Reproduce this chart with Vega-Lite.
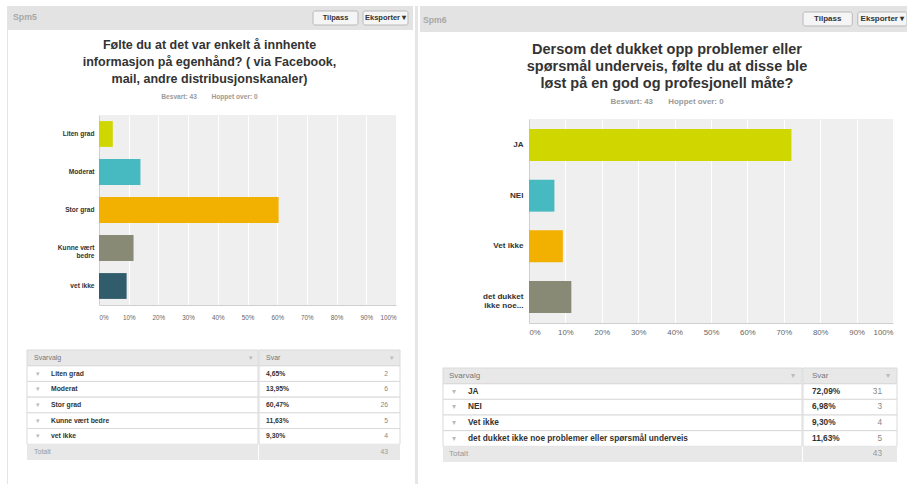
{
  "$schema": "https://vega.github.io/schema/vega-lite/v6.json",
  "background": "white",
  "padding": {"left": 7, "top": 6, "right": 0, "bottom": 0},
  "config": {
    "font": "Liberation Sans",
    "locale": {"number": {"decimal": ",", "thousands": " ", "grouping": [3], "currency": ["", " kr"]}},
    "view": {"stroke": null},
    "axis": {"labelFont": "Liberation Sans"},
    "text": {"font": "Liberation Sans"}
  },
  "datasets": {
    "spm5": [
      {"svar": "Liten grad", "andel": 0.0465, "antall": 2},
      {"svar": "Moderat", "andel": 0.1395, "antall": 6},
      {"svar": "Stor grad", "andel": 0.6047, "antall": 26},
      {"svar": "Kunne vært bedre", "andel": 0.1163, "antall": 5},
      {"svar": "vet ikke", "andel": 0.0930, "antall": 4}
    ],
    "spm6": [
      {"svar": "JA", "andel": 0.7209, "antall": 31},
      {"svar": "NEI", "andel": 0.0698, "antall": 3},
      {"svar": "Vet ikke", "andel": 0.0930, "antall": 4},
      {"svar": "det dukket ikke noe problemer eller spørsmål underveis", "andel": 0.1163, "antall": 5}
    ],
    "knapper": [
      {"knapp": "Tilpass", "rad": "verktøy"},
      {"knapp": "Eksporter ▾", "rad": "verktøy"}
    ],
    "tom": []
  },
  "spacing": 2,
  "resolve": {"scale": {"color": "independent"}},
  "hconcat": [
    {
      "spacing": 0,
      "hconcat": [
        {"width": 1, "height": 478, "view": {"fill": "#e4e4e4", "stroke": null}, "data": {"name": "tom"}, "mark": "point"},
        {
          "spacing": 8,
          "vconcat": [
            {
              "width": 405, "height": 24,
              "view": {"fill": "#e3e3e3", "stroke": null},
              "data": {"name": "knapper"},
              "title": {"text": "Spm5", "anchor": "start", "frame": "group", "orient": "top", "baseline": "top", "offset": -15.4, "dx": 5, "fontSize": 8.8, "fontWeight": "bold", "color": "#a8a8a8"},
              "encoding": {
                "x": {"field": "knapp", "type": "nominal", "scale": {"domain": ["_1", "_2", "_3", "_4", "_5", "_6", "Tilpass", "Eksporter ▾"], "paddingInner": 0.1, "paddingOuter": 0.1}, "axis": null},
                "y": {"field": "rad", "type": "nominal", "scale": {"paddingInner": 0, "paddingOuter": 0.357}, "axis": null}
              },
              "layer": [
                {"mark": {"type": "rect", "fill": "#f5f5f5", "stroke": "#b9b9b9", "cornerRadius": 2}},
                {"mark": {"type": "text", "fontWeight": "bold", "fontSize": 7.5, "color": "#333333"}, "encoding": {"text": {"field": "knapp"}}}
              ]
            },
            {
              "spacing": 0,
              "hconcat": [
                {"width": 41, "height": 1, "data": {"name": "tom"}, "mark": "point"},
                {
                  "width": 297, "height": 190,
                  "view": {"fill": "#efefef", "stroke": null},
                  "data": {"name": "spm5"},
                  "title": {
                    "text": ["Følte du at det var enkelt å innhente", "informasjon på egenhånd? ( via Facebook,", "mail, andre distribusjonskanaler)"],
                    "subtitle": "Besvart: 43\u00a0\u00a0\u00a0\u00a0\u00a0\u00a0\u00a0\u00a0Hoppet over: 0",
                    "anchor": "middle", "frame": "group", "orient": "top", "baseline": "top", "dx": -38,
                    "fontSize": 12.5, "fontWeight": "bold", "color": "#333333", "lineHeight": 17,
                    "subtitleFontSize": 6.6, "subtitleFontWeight": "bold", "subtitleColor": "#9a9a9a", "subtitlePadding": 9,
                    "offset": 14
                  },
                  "mark": {"type": "bar"},
                  "encoding": {
                    "y": {"field": "svar", "type": "nominal",
                      "scale": {"domain": ["Liten grad", "Moderat", "Stor grad", "Kunne vært bedre", "vet ikke"], "paddingInner": 0.32, "paddingOuter": 0.16},
                      "axis": {"title": null, "ticks": false, "grid": false, "domain": true, "domainColor": "#d0d0d0", "labelFontWeight": "bold", "labelFontSize": 6.6, "labelColor": "#333333", "labelPadding": 5, "labelLineHeight": 8, "labelExpr": "datum.label == 'Kunne vært bedre' ? ['Kunne vært', 'bedre'] : datum.label", "minExtent": 50, "maxExtent": 50}},
                    "x": {"field": "andel", "type": "quantitative", "scale": {"domain": [0, 1], "nice": false},
                      "axis": {"title": null, "values": [0, 0.1, 0.2, 0.3, 0.4, 0.5, 0.6, 0.7, 0.8, 0.9, 1], "format": ".0%", "grid": true, "gridColor": "#ffffff", "gridWidth": 1, "ticks": false, "domain": true, "domainColor": "#d0d0d0", "labelFontSize": 6.3, "labelColor": "#666666", "labelPadding": 9, "labelFlush": true, "minExtent": 36, "maxExtent": 36}},
                    "color": {"field": "svar", "type": "nominal", "legend": null,
                      "scale": {"domain": ["Liten grad", "Moderat", "Stor grad", "Kunne vært bedre", "vet ikke"], "range": ["#d0d600", "#46b9c1", "#f2b100", "#888a76", "#305c6c"]}}
                  }
                }
              ]
            },
            {
              "spacing": -2,
              "hconcat": [
                {"width": 19, "height": 1, "data": {"name": "tom"}, "mark": "point"},
                {
                  "width": 231, "height": 110,
                  "view": {"stroke": null},
                  "data": {"name": "spm5"},
                  "encoding": {
                    "y": {"field": "svar", "type": "nominal",
                      "scale": {"domain": ["Svarvalg", "Liten grad", "Moderat", "Stor grad", "Kunne vært bedre", "vet ikke", "Totalt"], "paddingInner": 0, "paddingOuter": 0},
                      "axis": null}
                  },
                  "layer": [
                    {"mark": {"type": "rect", "fill": "#ffffff", "stroke": "#dadada"},
                      "encoding": {"x": {"datum": 0, "type": "quantitative", "scale": {"domain": [0, 1], "nice": false}, "axis": null}, "x2": {"datum": 1}}},
                    {"mark": {"type": "text", "text": "▾", "align": "center", "dx": 11, "fontSize": 7, "color": "#bbbbbb"},
                      "encoding": {"x": {"datum": 0, "type": "quantitative"}}},
                    {"mark": {"type": "text", "align": "left", "dx": 24, "fontSize": 6.8, "fontWeight": "bold", "color": "#333333"},
                      "encoding": {"x": {"datum": 0, "type": "quantitative"}, "text": {"field": "svar"}}},
                    {
                      "transform": [{"aggregate": [{"op": "sum", "field": "antall", "as": "totalt"}]}],
                      "layer": [
                        {"mark": {"type": "rect", "fill": "#e8e8e8", "stroke": "#dadada"},
                          "encoding": {"y": {"datum": "Svarvalg", "type": "nominal"}, "x": {"datum": 0, "type": "quantitative"}, "x2": {"datum": 1}}},
                        {"mark": {"type": "rect", "fill": "#e8e8e8"},
                          "encoding": {"y": {"datum": "Totalt", "type": "nominal"}, "x": {"datum": 0, "type": "quantitative"}, "x2": {"datum": 1}}},
                        {"mark": {"type": "text", "text": "Svarvalg", "align": "left", "dx": 7, "fontSize": 7, "color": "#777777"},
                          "encoding": {"y": {"datum": "Svarvalg", "type": "nominal"}, "x": {"datum": 0, "type": "quantitative"}}},
                        {"mark": {"type": "text", "text": "▾", "align": "center", "dx": -7, "fontSize": 7, "color": "#bbbbbb"},
                          "encoding": {"y": {"datum": "Svarvalg", "type": "nominal"}, "x": {"datum": 1, "type": "quantitative"}}},
                        {"mark": {"type": "text", "text": "Totalt", "align": "left", "dx": 7, "fontSize": 7, "color": "#999999"},
                          "encoding": {"y": {"datum": "Totalt", "type": "nominal"}, "x": {"datum": 0, "type": "quantitative"}}}
                      ]
                    }
                  ]
                },
                {
                  "width": 141, "height": 110,
                  "view": {"stroke": null},
                  "data": {"name": "spm5"},
                  "encoding": {
                    "y": {"field": "svar", "type": "nominal",
                      "scale": {"domain": ["Svarvalg", "Liten grad", "Moderat", "Stor grad", "Kunne vært bedre", "vet ikke", "Totalt"], "paddingInner": 0, "paddingOuter": 0},
                      "axis": null}
                  },
                  "layer": [
                    {"mark": {"type": "rect", "fill": "#ffffff", "stroke": "#dadada"},
                      "encoding": {"x": {"datum": 0, "type": "quantitative", "scale": {"domain": [0, 1], "nice": false}, "axis": null}, "x2": {"datum": 1}}},
                    {"mark": {"type": "text", "align": "left", "dx": 7, "fontSize": 6.8, "fontWeight": "bold", "color": "#333333"},
                      "encoding": {"x": {"datum": 0, "type": "quantitative"}, "text": {"field": "andel", "type": "quantitative", "format": ".2%"}}},
                    {"mark": {"type": "text", "align": "right", "dx": -12, "fontSize": 6.8, "color": "#888888"},
                      "encoding": {"x": {"datum": 1, "type": "quantitative"}, "text": {"field": "antall", "type": "quantitative"}}},
                    {
                      "transform": [{"aggregate": [{"op": "sum", "field": "antall", "as": "totalt"}]}],
                      "layer": [
                        {"mark": {"type": "rect", "fill": "#e8e8e8", "stroke": "#dadada"},
                          "encoding": {"y": {"datum": "Svarvalg", "type": "nominal"}, "x": {"datum": 0, "type": "quantitative"}, "x2": {"datum": 1}}},
                        {"mark": {"type": "rect", "fill": "#e8e8e8"},
                          "encoding": {"y": {"datum": "Totalt", "type": "nominal"}, "x": {"datum": 0, "type": "quantitative"}, "x2": {"datum": 1}}},
                        {"mark": {"type": "text", "text": "Svar", "align": "left", "dx": 7, "fontSize": 7, "color": "#777777"},
                          "encoding": {"y": {"datum": "Svarvalg", "type": "nominal"}, "x": {"datum": 0, "type": "quantitative"}}},
                        {"mark": {"type": "text", "text": "▾", "align": "center", "dx": -8, "fontSize": 7, "color": "#bbbbbb"},
                          "encoding": {"y": {"datum": "Svarvalg", "type": "nominal"}, "x": {"datum": 1, "type": "quantitative"}}},
                        {"mark": {"type": "text", "align": "right", "dx": -12, "fontSize": 6.8, "color": "#999999"},
                          "encoding": {"y": {"datum": "Totalt", "type": "nominal"}, "x": {"datum": 1, "type": "quantitative"}, "text": {"field": "totalt", "type": "quantitative"}}}
                      ]
                    }
                  ]
                }
              ]
            }
          ]
        }
      ]
    },
    {"width": 3, "height": 478, "view": {"fill": "#e6e6e6", "stroke": null}, "data": {"name": "tom"}, "mark": "point"},
    {
      "spacing": 10,
      "vconcat": [
        {
          "width": 487, "height": 26,
          "view": {"fill": "#e3e3e3", "stroke": null},
          "data": {"name": "knapper"},
          "title": {"text": "Spm6", "anchor": "start", "frame": "group", "orient": "top", "baseline": "top", "offset": -18.4, "dx": 3, "fontSize": 8.7, "fontWeight": "bold", "color": "#a8a8a8"},
          "encoding": {
            "x": {"field": "knapp", "type": "nominal", "scale": {"domain": ["_1", "_2", "_3", "_4", "_5", "_6", "_7", "Tilpass", "Eksporter ▾"], "paddingInner": 0.1, "paddingOuter": 0}, "axis": null},
            "y": {"field": "rad", "type": "nominal", "scale": {"paddingInner": 0, "paddingOuter": 0.4286}, "axis": null}
          },
          "layer": [
            {"mark": {"type": "rect", "fill": "#f5f5f5", "stroke": "#b9b9b9", "cornerRadius": 2}},
            {"mark": {"type": "text", "fontWeight": "bold", "fontSize": 8, "color": "#333333"}, "encoding": {"text": {"field": "knapp"}}}
          ]
        },
        {
          "spacing": 0,
          "hconcat": [
            {"width": 59, "height": 1, "data": {"name": "tom"}, "mark": "point"},
            {
              "width": 364, "height": 204,
              "view": {"fill": "#efefef", "stroke": null},
              "data": {"name": "spm6"},
              "title": {
                "text": ["Dersom det dukket opp problemer eller", "spørsmål underveis, følte du at disse ble", "løst på en god og profesjonell måte?"],
                "subtitle": "Besvart: 43\u00a0\u00a0\u00a0\u00a0\u00a0\u00a0\u00a0Hoppet over: 0",
                "anchor": "middle", "frame": "group", "orient": "top", "baseline": "top", "dx": -44,
                "fontSize": 14.5, "fontWeight": "bold", "color": "#333333", "lineHeight": 17,
                "subtitleFontSize": 7.9, "subtitleFontWeight": "bold", "subtitleColor": "#9a9a9a", "subtitlePadding": 6.5,
                "offset": 12
              },
              "mark": {"type": "bar"},
              "encoding": {
                "y": {"field": "svar", "type": "nominal",
                  "scale": {"domain": ["JA", "NEI", "Vet ikke", "det dukket ikke noe problemer eller spørsmål underveis"], "paddingInner": 0.37, "paddingOuter": 0.2},
                  "axis": {"title": null, "ticks": false, "grid": false, "domain": true, "domainColor": "#d0d0d0", "labelFontWeight": "bold", "labelFontSize": 8.1, "labelColor": "#333333", "labelPadding": 6, "labelLineHeight": 9, "labelExpr": "indexof(datum.label, 'det dukket') == 0 ? ['det dukket', 'ikke noe...'] : datum.label", "minExtent": 50, "maxExtent": 50}},
                "x": {"field": "andel", "type": "quantitative", "scale": {"domain": [0, 1], "nice": false},
                  "axis": {"title": null, "values": [0, 0.1, 0.2, 0.3, 0.4, 0.5, 0.6, 0.7, 0.8, 0.9, 1], "format": ".0%", "grid": true, "gridColor": "#ffffff", "gridWidth": 1, "ticks": false, "domain": true, "domainColor": "#d0d0d0", "labelFontSize": 7.8, "labelColor": "#666666", "labelPadding": 5, "labelFlush": true, "minExtent": 34, "maxExtent": 34}},
                "color": {"field": "svar", "type": "nominal", "legend": null,
                  "scale": {"domain": ["JA", "NEI", "Vet ikke", "det dukket ikke noe problemer eller spørsmål underveis"], "range": ["#d0d600", "#46b9c1", "#f2b100", "#888a76"]}}
              }
            }
          ]
        },
        {
          "spacing": -2,
          "hconcat": [
            {"width": 23, "height": 1, "data": {"name": "tom"}, "mark": "point"},
            {
              "width": 359, "height": 94,
              "view": {"stroke": null},
              "data": {"name": "spm6"},
              "encoding": {
                "y": {"field": "svar", "type": "nominal",
                  "scale": {"domain": ["Svarvalg", "JA", "NEI", "Vet ikke", "det dukket ikke noe problemer eller spørsmål underveis", "Totalt"], "paddingInner": 0, "paddingOuter": 0},
                  "axis": null}
              },
              "layer": [
                {"mark": {"type": "rect", "fill": "#ffffff", "stroke": "#dadada"},
                  "encoding": {"x": {"datum": 0, "type": "quantitative", "scale": {"domain": [0, 1], "nice": false}, "axis": null}, "x2": {"datum": 1}}},
                {"mark": {"type": "text", "text": "▾", "align": "center", "dx": 11, "fontSize": 8, "color": "#bbbbbb"},
                  "encoding": {"x": {"datum": 0, "type": "quantitative"}}},
                {"mark": {"type": "text", "align": "left", "dx": 25, "fontSize": 8.3, "fontWeight": "bold", "color": "#333333"},
                  "encoding": {"x": {"datum": 0, "type": "quantitative"}, "text": {"field": "svar"}}},
                {
                  "transform": [{"aggregate": [{"op": "sum", "field": "antall", "as": "totalt"}]}],
                  "layer": [
                    {"mark": {"type": "rect", "fill": "#e8e8e8", "stroke": "#dadada"},
                      "encoding": {"y": {"datum": "Svarvalg", "type": "nominal"}, "x": {"datum": 0, "type": "quantitative"}, "x2": {"datum": 1}}},
                    {"mark": {"type": "rect", "fill": "#e8e8e8"},
                      "encoding": {"y": {"datum": "Totalt", "type": "nominal"}, "x": {"datum": 0, "type": "quantitative"}, "x2": {"datum": 1}}},
                    {"mark": {"type": "text", "text": "Svarvalg", "align": "left", "dx": 6, "fontSize": 8, "color": "#777777"},
                      "encoding": {"y": {"datum": "Svarvalg", "type": "nominal"}, "x": {"datum": 0, "type": "quantitative"}}},
                    {"mark": {"type": "text", "text": "▾", "align": "center", "dx": -9, "fontSize": 8, "color": "#bbbbbb"},
                      "encoding": {"y": {"datum": "Svarvalg", "type": "nominal"}, "x": {"datum": 1, "type": "quantitative"}}},
                    {"mark": {"type": "text", "text": "Totalt", "align": "left", "dx": 6, "fontSize": 8, "color": "#999999"},
                      "encoding": {"y": {"datum": "Totalt", "type": "nominal"}, "x": {"datum": 0, "type": "quantitative"}}}
                  ]
                }
              ]
            },
            {
              "width": 94, "height": 94,
              "view": {"stroke": null},
              "data": {"name": "spm6"},
              "encoding": {
                "y": {"field": "svar", "type": "nominal",
                  "scale": {"domain": ["Svarvalg", "JA", "NEI", "Vet ikke", "det dukket ikke noe problemer eller spørsmål underveis", "Totalt"], "paddingInner": 0, "paddingOuter": 0},
                  "axis": null}
              },
              "layer": [
                {"mark": {"type": "rect", "fill": "#ffffff", "stroke": "#dadada"},
                  "encoding": {"x": {"datum": 0, "type": "quantitative", "scale": {"domain": [0, 1], "nice": false}, "axis": null}, "x2": {"datum": 1}}},
                {"mark": {"type": "text", "align": "left", "dx": 9, "fontSize": 8.3, "fontWeight": "bold", "color": "#333333"},
                  "encoding": {"x": {"datum": 0, "type": "quantitative"}, "text": {"field": "andel", "type": "quantitative", "format": ".2%"}}},
                {"mark": {"type": "text", "align": "right", "dx": -15, "fontSize": 8.3, "color": "#888888"},
                  "encoding": {"x": {"datum": 1, "type": "quantitative"}, "text": {"field": "antall", "type": "quantitative"}}},
                {
                  "transform": [{"aggregate": [{"op": "sum", "field": "antall", "as": "totalt"}]}],
                  "layer": [
                    {"mark": {"type": "rect", "fill": "#e8e8e8", "stroke": "#dadada"},
                      "encoding": {"y": {"datum": "Svarvalg", "type": "nominal"}, "x": {"datum": 0, "type": "quantitative"}, "x2": {"datum": 1}}},
                    {"mark": {"type": "rect", "fill": "#e8e8e8"},
                      "encoding": {"y": {"datum": "Totalt", "type": "nominal"}, "x": {"datum": 0, "type": "quantitative"}, "x2": {"datum": 1}}},
                    {"mark": {"type": "text", "text": "Svar", "align": "left", "dx": 9, "fontSize": 8, "color": "#777777"},
                      "encoding": {"y": {"datum": "Svarvalg", "type": "nominal"}, "x": {"datum": 0, "type": "quantitative"}}},
                    {"mark": {"type": "text", "text": "▾", "align": "center", "dx": -9, "fontSize": 8, "color": "#bbbbbb"},
                      "encoding": {"y": {"datum": "Svarvalg", "type": "nominal"}, "x": {"datum": 1, "type": "quantitative"}}},
                    {"mark": {"type": "text", "align": "right", "dx": -15, "fontSize": 8.3, "color": "#999999"},
                      "encoding": {"y": {"datum": "Totalt", "type": "nominal"}, "x": {"datum": 1, "type": "quantitative"}, "text": {"field": "totalt", "type": "quantitative"}}}
                  ]
                }
              ]
            }
          ]
        }
      ]
    }
  ]
}
